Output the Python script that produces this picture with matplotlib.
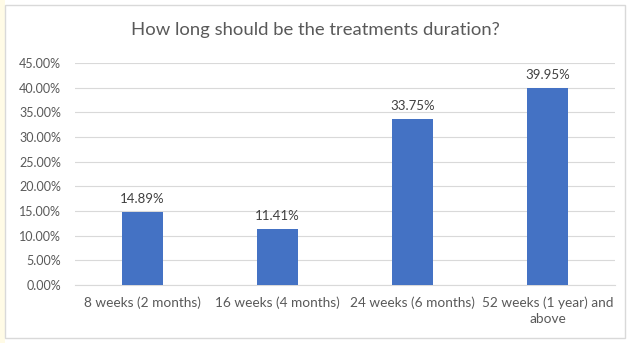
import matplotlib.pyplot as plt
from matplotlib.patches import Rectangle
from matplotlib.ticker import FuncFormatter

categories = ["8 weeks (2 months)", "16 weeks (4 months)", "24 weeks (6 months)",
              "52 weeks (1 year) and\nabove"]
shares = [14.89, 11.41, 33.75, 39.95]
yticks = [0, 5, 10, 15, 20, 25, 30, 35, 40, 45]

plt.rcParams["font.family"] = ["Lato", "DejaVu Sans"]
text_color = "#595959"

fig = plt.figure(figsize=(6.3, 3.43), dpi=100)
fig.patch.set_facecolor("white")
# pale strip on the left and the chart border
fig.add_artist(Rectangle((0, 0), 5 / 630, 1, transform=fig.transFigure,
                         facecolor="#FFFBE6", edgecolor="none"))
fig.add_artist(Rectangle((5 / 630, 5 / 343), 620 / 630, 333 / 343,
                         transform=fig.transFigure, facecolor="none",
                         edgecolor="#D9D9D9", linewidth=1))

ax = fig.add_axes([75 / 630, 1 - 285 / 343, 540 / 630, 222 / 343])
x = range(len(categories))
bars = ax.bar(x, shares, width=0.31, color="#4472C4", zorder=3)
for b, v in zip(bars, shares):
    ax.text(b.get_x() + b.get_width() / 2, v + 1.4, f"{v:.2f}%",
            ha="center", va="bottom", fontsize=9.5, color="#404040")

ax.set_xlim(-0.5, len(categories) - 0.5)
ax.set_ylim(0, 45)
ax.set_yticks(yticks)
ax.yaxis.set_major_formatter(FuncFormatter(lambda v, p: f"{v:.2f}%"))
ax.set_xticks(list(x))
ax.set_xticklabels(categories, fontsize=9.8, color=text_color, linespacing=1.45)
ax.tick_params(axis="y", labelsize=9, labelcolor=text_color, length=0, pad=10)
ax.tick_params(axis="x", length=0, pad=8)
ax.grid(axis="y", color="#D9D9D9", linewidth=0.8, zorder=0)
for s in ["top", "right", "left"]:
    ax.spines[s].set_visible(False)
ax.spines["bottom"].set_color("#D9D9D9")
ax.spines["bottom"].set_linewidth(0.8)

fig.text(0.5, 1 - 30 / 343, "How long should be the treatments duration?",
         ha="center", va="center", fontsize=13.3, color=text_color)

fig.savefig("out.png", dpi=100)
